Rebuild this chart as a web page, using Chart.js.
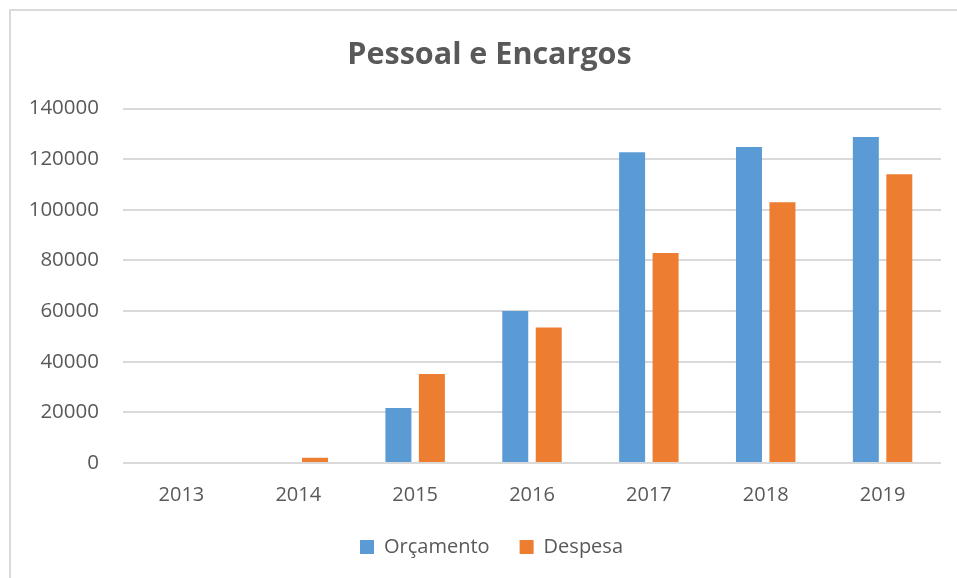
<!DOCTYPE html>
<html>
<head>
<meta charset="utf-8">
<script src="https://cdn.jsdelivr.net/npm/chart.js@4"></script>
<style>
  html, body { margin: 0; padding: 0; background: #fff; overflow: hidden; }
  #wrap { position: relative; width: 957px; height: 578px; }
  #frame { position: absolute; left: 9px; top: 9px; width: 2000px; height: 2000px; border: 2px solid #dadada; box-sizing: border-box; }
  canvas { position: absolute; left: 0; top: 0; }
</style>
</head>
<body>
<div id="wrap">
  <div id="frame"></div>
  <canvas id="chart" width="957" height="578"></canvas>
</div>
<script>
// Pessoal e Encargos — orçamento vs despesa por ano
const years     = ['2013', '2014', '2015', '2016', '2017', '2018', '2019'];
const orcamento = [0, 0, 21700, 60000, 122800, 124800, 128800];
const despesa   = [0, 2100, 35200, 53500, 83000, 103000, 114100];

const textColor = '#595959';
const font = 'Open Sans';

// nudge legend and title a little right, like the original
const boxShift = {
  id: 'boxShift',
  afterLayout(chart) {
    chart.legend.left += 8;
    chart.legend.right += 8;
    chart.titleBlock.left += 6;
    chart.titleBlock.right += 6;
  }
};

new Chart(document.getElementById('chart').getContext('2d'), {
  type: 'bar',
  data: {
    labels: years,
    datasets: [
      { label: 'Orçamento', data: orcamento, backgroundColor: '#5b9bd5', categoryPercentage: 0.573, barPercentage: 0.776 },
      { label: 'Despesa',   data: despesa,   backgroundColor: '#ed7d31', categoryPercentage: 0.573, barPercentage: 0.776 }
    ]
  },
  options: {
    responsive: false,
    animation: false,
    layout: { padding: { left: 26, right: 16, top: 0, bottom: 11 } },
    plugins: {
      title: {
        display: true, text: 'Pessoal e Encargos', color: textColor,
        font: { family: font, size: 30.5, weight: 'bold' },
        padding: { top: 37, bottom: 35 }
      },
      legend: {
        position: 'bottom',
        labels: { boxWidth: 14, boxHeight: 14, padding: 30, color: textColor, font: { family: font, size: 20 } }
      },
      tooltip: { enabled: false }
    },
    scales: {
      x: {
        grid: { display: false, drawTicks: false },
        border: { display: false },
        ticks: { color: textColor, font: { family: font, size: 20 }, padding: 20 },
        afterFit: s => { s.height = 44; }
      },
      y: {
        min: 0, max: 140000,
        grid: { color: '#d9d9d9', lineWidth: 2, drawTicks: false },
        border: { display: false },
        ticks: { stepSize: 20000, color: textColor, font: { family: font, size: 20.5 }, padding: 24,
                 callback: v => String(v) },
        afterFit: s => { s.width = 97; }
      }
    }
  },
  plugins: [boxShift]
});
</script>
</body>
</html>
